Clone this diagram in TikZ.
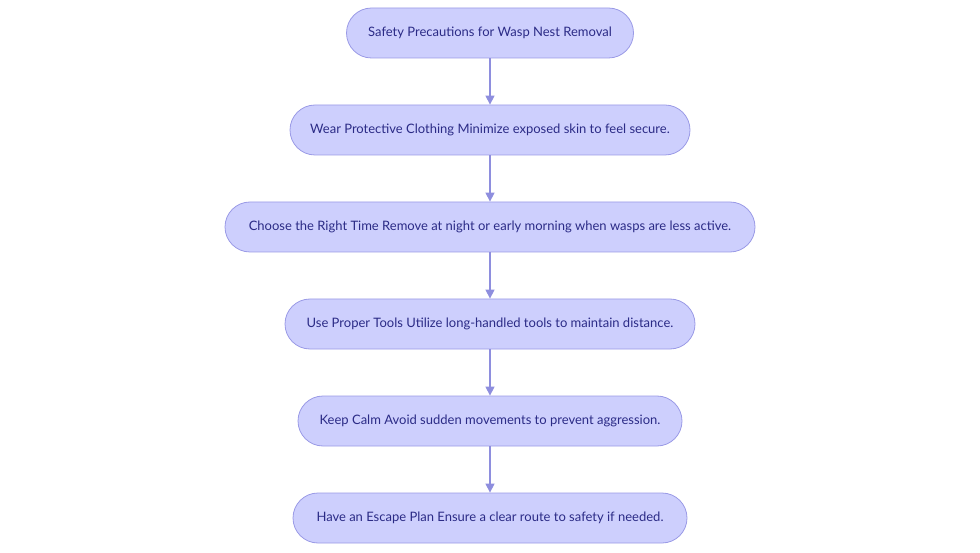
\documentclass[tikz,border=0pt]{standalone}
\usepackage{fontspec}
\setmainfont{Lato}
\usetikzlibrary{arrows.meta}
\definecolor{bx}{HTML}{CDCFFD}
\definecolor{bd}{HTML}{9A9AE6}
\definecolor{tx}{HTML}{2B2B86}
\definecolor{ar}{HTML}{8E8EDE}
\begin{document}
\begin{tikzpicture}[x=1pt,y=-1pt,
 box/.style={draw=bd,fill=bx,rounded corners=25pt,minimum height=50pt,text=tx,font=\fontsize{13}{16}\selectfont,inner sep=0pt,line width=0.8pt},
 arr/.style={draw=ar,line width=1.3pt,-{Triangle[length=9pt,width=9pt]}}]
\useasboundingbox (0,0) rectangle (980,553);
\node[box,minimum width=287pt] (a) at (490,33) {Safety Precautions for Wasp Nest Removal};
\node[box,minimum width=400pt] (b) at (490,130) {Wear Protective Clothing Minimize exposed skin to feel secure.};
\node[box,minimum width=530pt] (c) at (490,227) {Choose the Right Time Remove at night or early morning when wasps are less active.};
\node[box,minimum width=410pt] (d) at (490,324) {Use Proper Tools Utilize long-handled tools to maintain distance.};
\node[box,minimum width=384pt] (e) at (490,421) {Keep Calm Avoid sudden movements to prevent aggression.};
\node[box,minimum width=394pt] (f) at (490,518) {Have an Escape Plan Ensure a clear route to safety if needed.};
\draw[arr] (a) -- (b);
\draw[arr] (b) -- (c);
\draw[arr] (c) -- (d);
\draw[arr] (d) -- (e);
\draw[arr] (e) -- (f);
\end{tikzpicture}
\end{document}
